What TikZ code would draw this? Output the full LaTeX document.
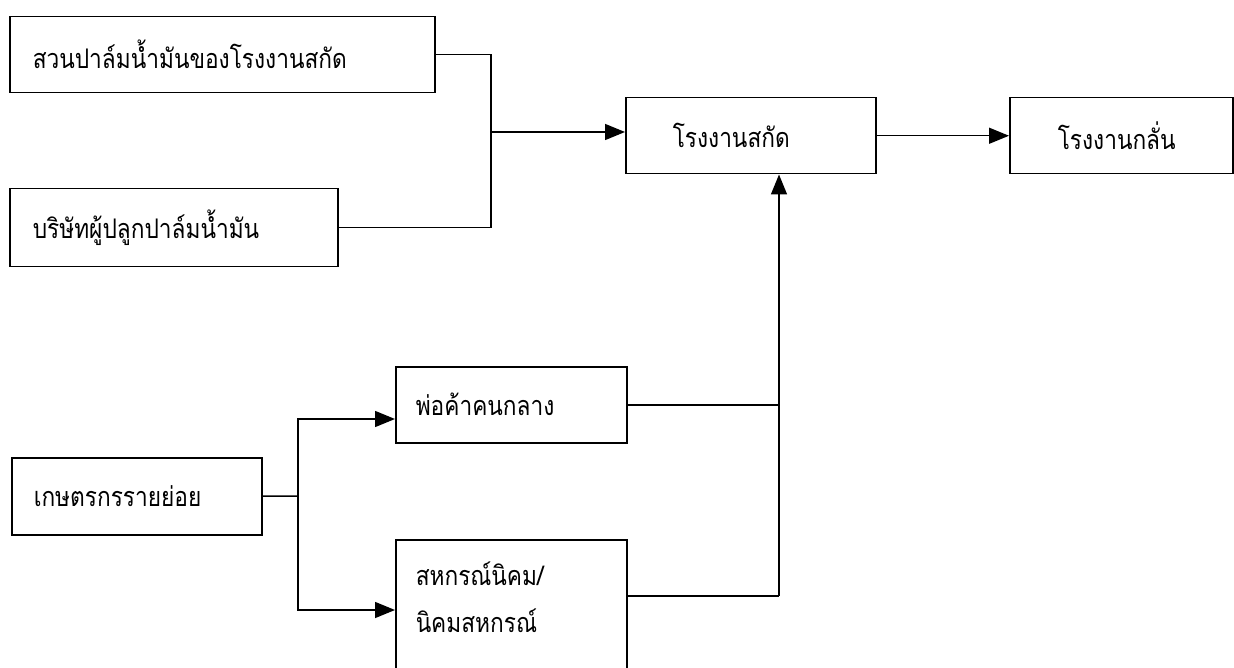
\documentclass[tikz,border=0pt]{standalone}
\usepackage{fontspec}
\newfontfamily\thaifont[Script=Thai]{Loma}
\usetikzlibrary{arrows.meta}
\newcommand{\thtxt}[1]{\scalebox{0.84}[1]{#1}}
\begin{document}
\begin{tikzpicture}[x=1pt,y=-1pt,
  box/.style={draw, line width=1.5pt, anchor=north west, align=left,
    font=\thaifont\fontsize{27pt}{47pt}\selectfont, inner ysep=0pt},
  conn/.style={line width=1.5pt},
  arr/.style={conn, -{Triangle[length=20pt,width=16pt]}}]
\useasboundingbox (0,0) rectangle (1234,668);
\clip (0,0) rectangle (1234,668);
\node[box, minimum height=76pt, text width=379pt, inner xsep=23pt] (A) at (9,16) {\thtxt{สวนปาล์มน้ำมันของโรงงานสกัด}};
\node[box, minimum height=78pt, text width=282pt, inner xsep=23pt] (B) at (9,188) {\thtxt{บริษัทผู้ปลูกปาล์มน้ำมัน}};
\node[box, minimum height=76pt, text width=156pt, inner xsep=47pt] (C) at (625,97) {\thtxt{โรงงานสกัด}};
\node[box, minimum height=76pt, text width=127pt, inner xsep=48pt] (D) at (1009,97) {\thtxt{โรงงานกลั่น}};
\node[box, minimum height=77pt, text width=206pt, inner xsep=22pt] (E) at (11,457) {\thtxt{เกษตรกรรายย่อย}};
\node[box, minimum height=76pt, text width=191pt, inner xsep=20pt] (F) at (395,366) {\thtxt{พ่อค้าคนกลาง}};
\node[box, text width=191pt, inner xsep=20pt, inner ysep=22pt, text depth=140pt] (G) at (395,539) {\thtxt{สหกรณ์นิคม/}\\\thtxt{นิคมสหกรณ์}};
\coordinate (jA) at (491,132);
\coordinate (jE) at (298,496);
\coordinate (fIn) at (395,419);
\coordinate (gIn) at (395,610);
\coordinate (gOut) at (626,596);
\coordinate (vBot) at (779,596);
\draw[conn] (A.east) -| (jA);
\draw[conn] (B.east) -| (jA);
\draw[arr] (jA) -- (jA -| C.west);
\draw[arr] (C.east) -- (D.west);
\draw[conn] (E.east) -- (jE);
\draw[arr] (jE) |- (fIn);
\draw[arr] (jE) |- (gIn);
\draw[conn] (F.east) -- (F.east -| vBot);
\draw[conn] (gOut) -- (vBot);
\draw[arr] (vBot) -- (vBot |- C.south);
\end{tikzpicture}
\end{document}
